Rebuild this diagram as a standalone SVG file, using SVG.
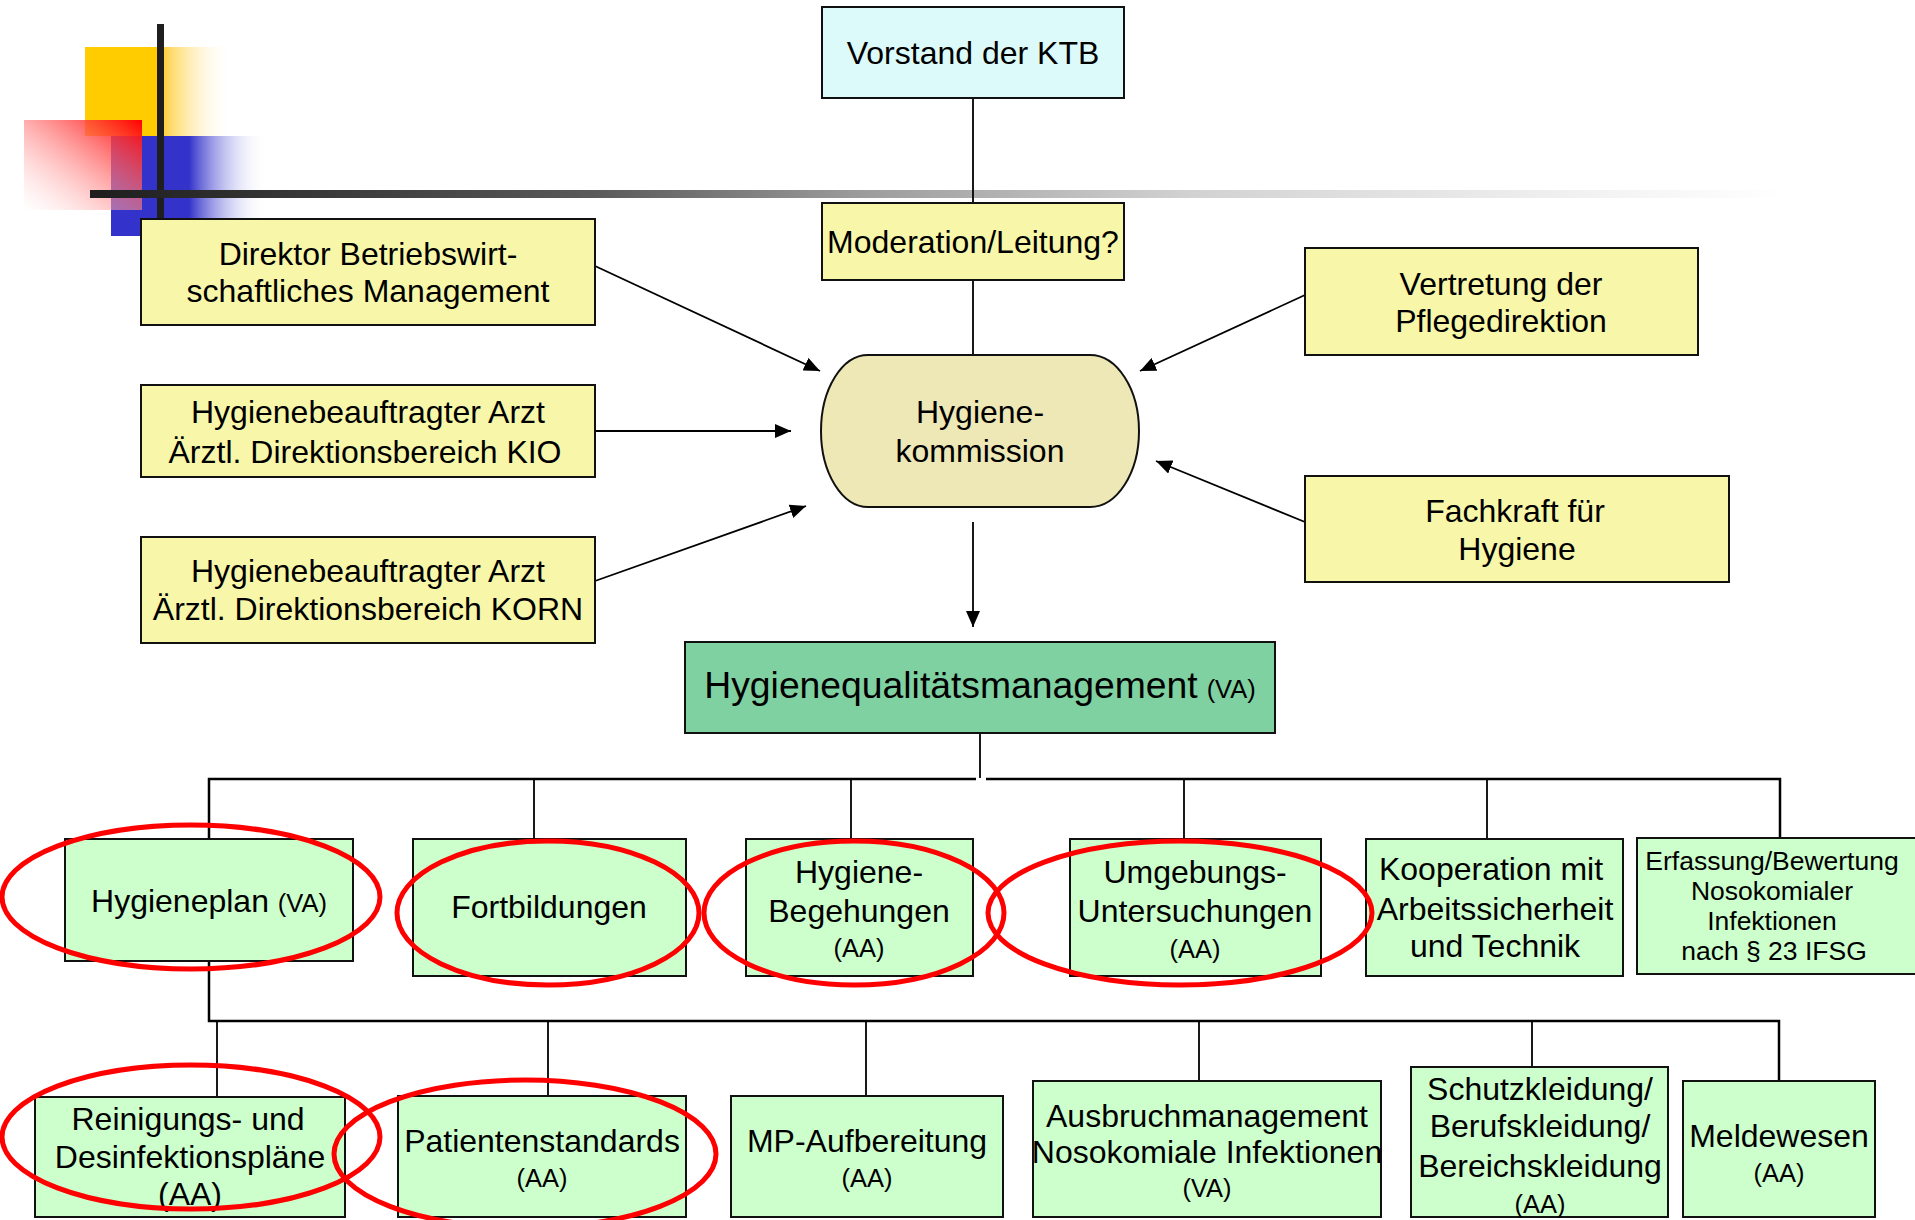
<svg xmlns="http://www.w3.org/2000/svg" width="1915" height="1220" viewBox="0 0 1915 1220">
<style>
text{font-family:"Liberation Sans",Arial,sans-serif;font-size:32px;text-anchor:middle;fill:#000}
.s{font-size:25.5px}
.sm{font-size:26.5px}
.big{font-size:37.3px}
.box{stroke:#111;stroke-width:2}
.yel{fill:#F8F7A9}
.cyan{fill:#DCFAFA}
.grn{fill:#CCFFCC}
.dgrn{fill:#80D1A1}
.khaki{fill:#EDE8B5}
.c{stroke:#000;stroke-width:1.8;fill:none}
.bus{stroke:#000;stroke-width:2.5;fill:none}
.arr{marker-end:url(#ah)}
.ring{fill:none;stroke:#FF0000;stroke-width:5}
</style>
<defs>
<marker id="ah" markerUnits="userSpaceOnUse" markerWidth="17" markerHeight="14" refX="16" refY="7" orient="auto">
<path d="M0,0 L16,7 L0,14 z" fill="#000"/>
</marker>
<linearGradient id="gy" x1="0" y1="0" x2="1" y2="0">
<stop offset="0" stop-color="#FFCC00"/>
<stop offset="0.49" stop-color="#FFCC00"/>
<stop offset="0.56" stop-color="#FFD65A"/>
<stop offset="1" stop-color="#FFFFFF" stop-opacity="0"/>
</linearGradient>
<linearGradient id="gb" x1="0" y1="0" x2="1" y2="0">
<stop offset="0" stop-color="#3333CC"/>
<stop offset="0.5" stop-color="#3333CC"/>
<stop offset="1" stop-color="#FFFFFF" stop-opacity="0"/>
</linearGradient>
<linearGradient id="gr" x1="1" y1="0" x2="0" y2="1">
<stop offset="0" stop-color="#FF0000"/>
<stop offset="1" stop-color="#FFFFFF" stop-opacity="0.3"/>
</linearGradient>
<linearGradient id="gh" x1="0" y1="0" x2="1" y2="0">
<stop offset="0" stop-color="#1E1E1E"/>
<stop offset="0.3" stop-color="#5A5A5A"/>
<stop offset="0.45" stop-color="#9A9A9A"/>
<stop offset="0.65" stop-color="#D2D2D2"/>
<stop offset="0.9" stop-color="#F4F4F4"/>
<stop offset="1" stop-color="#FFFFFF"/>
</linearGradient>
</defs>
<rect width="1915" height="1220" fill="#FFFFFF"/>
<g id="logo">
<rect x="85" y="47" width="148" height="89" fill="url(#gy)"/>
<rect x="111" y="136" width="156" height="100" fill="url(#gb)"/>
<rect x="24" y="120" width="118" height="90" fill="url(#gr)"/>
<rect x="157" y="24" width="7" height="196" fill="#1F1F1F"/>
<rect x="90" y="190" width="1695" height="8" fill="url(#gh)"/>
</g>
<g id="connectors">
<line class="c" x1="973" y1="98" x2="973" y2="203"/>
<line class="c" x1="973" y1="280" x2="973" y2="355"/>
<line class="c arr" x1="595" y1="266" x2="820" y2="371"/>
<line class="c arr" x1="595" y1="431" x2="791" y2="431"/>
<line class="c arr" x1="595" y1="581" x2="806" y2="506"/>
<line class="c arr" x1="1305" y1="295" x2="1140" y2="371"/>
<line class="c arr" x1="1305" y1="522" x2="1156" y2="461"/>
<line class="c arr" x1="973" y1="522" x2="973" y2="627"/>
<line class="c" x1="980" y1="733" x2="980" y2="778"/>
<path class="bus" d="M209,839 V779 H976 M986,779 H1780 V838"/>
<line class="c" x1="534" y1="779" x2="534" y2="839"/>
<line class="c" x1="851" y1="779" x2="851" y2="839"/>
<line class="c" x1="1184" y1="779" x2="1184" y2="839"/>
<line class="c" x1="1487" y1="779" x2="1487" y2="839"/>
<path class="bus" d="M209,961 V1021 H1779 V1081"/>
<line class="c" x1="217" y1="1021" x2="217" y2="1097"/>
<line class="c" x1="548" y1="1021" x2="548" y2="1096"/>
<line class="c" x1="866" y1="1021" x2="866" y2="1096"/>
<line class="c" x1="1199" y1="1021" x2="1199" y2="1081"/>
<line class="c" x1="1532" y1="1021" x2="1532" y2="1067"/>
</g>
<g id="vorstand"><rect class="box cyan" x="822" y="7" width="302" height="91"/><text x="973" y="64">Vorstand der KTB</text></g>
<g id="moderation"><rect class="box yel" x="822" y="203" width="302" height="77"/><text x="973" y="253">Moderation/Leitung?</text></g>
<g id="direktor"><rect class="box yel" x="141" y="219" width="454" height="106"/><text x="368" y="265">Direktor Betriebswirt-</text><text x="368" y="302">schaftliches Management</text></g>
<g id="arzt-kio"><rect class="box yel" x="141" y="385" width="454" height="92"/><text x="368" y="423">Hygienebeauftragter Arzt</text><text x="365" y="463">Ärztl. Direktionsbereich KIO</text></g>
<g id="arzt-korn"><rect class="box yel" x="141" y="537" width="454" height="106"/><text x="368" y="582">Hygienebeauftragter Arzt</text><text x="368" y="620">Ärztl. Direktionsbereich KORN</text></g>
<g id="vertretung"><rect class="box yel" x="1305" y="248" width="393" height="107"/><text x="1501" y="295">Vertretung der</text><text x="1501" y="332">Pflegedirektion</text></g>
<g id="fachkraft"><rect class="box yel" x="1305" y="476" width="424" height="106"/><text x="1515" y="522">Fachkraft für</text><text x="1517" y="560">Hygiene</text></g>
<g id="hygienekommission"><path class="box khaki" d="M868,355 L1090,355 A49,76 0 0 1 1090,507 L868,507 A47,76 0 0 1 868,355 Z"/><text x="980" y="423">Hygiene-</text><text x="980" y="462">kommission</text></g>
<g id="hqm"><rect class="box dgrn" x="685" y="642" width="590" height="91"/><text x="980" y="698"><tspan class="big">Hygienequalitätsmanagement</tspan> <tspan class="s">(VA)</tspan></text></g>
<g id="hygieneplan"><rect class="box grn" x="65" y="839" width="288" height="122"/><text x="209" y="912">Hygieneplan <tspan class="s">(VA)</tspan></text></g>
<g id="fortbildungen"><rect class="box grn" x="413" y="839" width="273" height="137"/><text x="549" y="918">Fortbildungen</text></g>
<g id="begehungen"><rect class="box grn" x="746" y="839" width="227" height="137"/><text x="859" y="883">Hygiene-</text><text x="859" y="922">Begehungen</text><text class="s" x="859" y="957">(AA)</text></g>
<g id="umgebung"><rect class="box grn" x="1070" y="839" width="251" height="137"/><text x="1195" y="883">Umgebungs-</text><text x="1195" y="922">Untersuchungen</text><text class="s" x="1195" y="958">(AA)</text></g>
<g id="kooperation"><rect class="box grn" x="1366" y="839" width="257" height="137"/><text x="1491" y="880">Kooperation mit</text><text x="1495" y="920">Arbeitssicherheit</text><text x="1495" y="957">und Technik</text></g>
<g id="erfassung"><rect class="box grn" x="1637" y="838" width="290" height="136"/><text class="sm" x="1772" y="870">Erfassung/Bewertung</text><text class="sm" x="1772" y="900">Nosokomialer</text><text class="sm" x="1772" y="930">Infektionen</text><text class="sm" x="1774" y="960">nach § 23 IFSG</text></g>
<g id="reinigung"><rect class="box grn" x="35" y="1097" width="310" height="120"/><text x="188" y="1130">Reinigungs- und</text><text x="190" y="1168">Desinfektionspläne</text><text x="190" y="1205">(AA)</text></g>
<g id="patientenstandards"><rect class="box grn" x="398" y="1096" width="288" height="121"/><text x="542" y="1152">Patientenstandards</text><text class="s" x="542" y="1187">(AA)</text></g>
<g id="mp-aufbereitung"><rect class="box grn" x="731" y="1096" width="272" height="121"/><text x="867" y="1152">MP-Aufbereitung</text><text class="s" x="867" y="1187">(AA)</text></g>
<g id="ausbruch"><rect class="box grn" x="1033" y="1081" width="348" height="136"/><text x="1207" y="1127">Ausbruchmanagement</text><text x="1207" y="1163">Nosokomiale Infektionen</text><text class="s" x="1207" y="1197">(VA)</text></g>
<g id="schutzkleidung"><rect class="box grn" x="1411" y="1067" width="257" height="150"/><text x="1540" y="1100">Schutzkleidung/</text><text x="1540" y="1137">Berufskleidung/</text><text x="1540" y="1177">Bereichskleidung</text><text class="s" x="1540" y="1213">(AA)</text></g>
<g id="meldewesen"><rect class="box grn" x="1683" y="1081" width="192" height="136"/><text x="1779" y="1147">Meldewesen</text><text class="s" x="1779" y="1182">(AA)</text></g>
<g id="highlights">
<ellipse class="ring" cx="191" cy="897" rx="189" ry="72"/>
<ellipse class="ring" cx="548" cy="913" rx="151" ry="72"/>
<ellipse class="ring" cx="854" cy="913" rx="150" ry="72"/>
<ellipse class="ring" cx="1180" cy="913" rx="192" ry="72"/>
<ellipse class="ring" cx="191" cy="1137" rx="189" ry="72"/>
<ellipse class="ring" cx="525" cy="1154" rx="191" ry="74"/>
</g>
</svg>
